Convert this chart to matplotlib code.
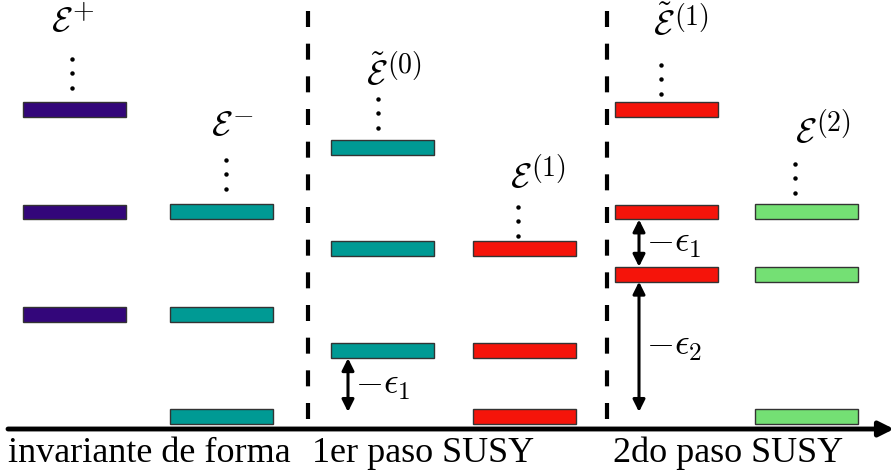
import matplotlib
matplotlib.use("Agg")
import matplotlib.pyplot as plt

plt.rcParams['font.family'] = ['Liberation Serif', 'DejaVu Serif']
plt.rcParams['mathtext.fontset'] = 'cm'

# ---- data: energy levels (arbitrary units) ----
E_plus = [1.0, 2.0, 3.0]
E_minus = [0.0, 1.0, 2.0]
E_tilde0 = [0.64, 1.64, 2.63]
E_1 = [0.0, 0.64, 1.64]
E_tilde1 = [1.39, 2.0, 3.0]
E_2 = [0.0, 1.39, 2.0]

level_sets = [E_plus, E_minus, E_tilde0, E_1, E_tilde1, E_2]
level_base = [r'$\mathcal{E}$', r'$\mathcal{E}$', r'$\tilde{\mathcal{E}}$',
              r'$\mathcal{E}$', r'$\tilde{\mathcal{E}}$', r'$\mathcal{E}$']
level_sup = [r'$+$', r'$-$', r'$(0)$', r'$(1)$', r'$(1)$', r'$(2)$']
level_colors = ['#33067a', '#009a94', '#009a94', '#f5140a', '#f5140a', '#74e074']
stage_labels = ['invariante de forma', '1er paso SUSY', '2do paso SUSY']
gap_labels = [r'$-\epsilon_1$', r'$-\epsilon_1$', r'$-\epsilon_2$']
# gaps: (column index, upper level, lower level)
gaps = [(2, 0.64, 0.0), (4, 2.0, 1.39), (4, 1.39, 0.0)]

# ---- layout ----
W, H = 894, 474
px = 102.0            # pixels per energy unit
y0 = 416.0            # pixel row of energy 0
def e(ypix):
    return (y0 - ypix) / px

col_left = [23, 170, 331, 473, 615, 755]
bar_w = 103
bar_h = 15 / px
label_pos = [(53, 31), (213, 135), (368, 85), (512, 187), (655, 35), (797, 142)]  # (left px, baseline px)
sup_raise = [12, 14, 12, 11, 10, 11]
dot_x = [72, 226, 378, 518, 661, 795]
dot_off = [22, 23, 20, 13, 16, 19]
stage_x = [149, 423, 728]
divider_x = [308, 607]
arrow_x = {2: 348, 4: 639}

fig = plt.figure(figsize=(W / 100, H / 100), dpi=100)
ax = fig.add_axes([0, 0, 1, 1])
ax.set_xlim(0, W)
ax.set_ylim(e(H), e(0))
ax.axis('off')

for i, (left, lv, col) in enumerate(zip(col_left, level_sets, level_colors)):
    ax.barh(lv, bar_w, height=bar_h, left=left, color=col, edgecolor='#333333', linewidth=1.0, zorder=3)
    top = max(lv)
    dys = [top + (dot_off[i] + k * 14.5) / px for k in range(3)]
    ax.plot([dot_x[i]] * 3, dys, 'o', color='k', ms=3.2, mew=0, zorder=3)
    lx, ly = label_pos[i]
    ax.text(lx - 2, e(ly), level_base[i], fontsize=25, ha='left', va='baseline')
    ax.text(lx + 19, e(ly - sup_raise[i]), level_sup[i], fontsize=20, ha='left', va='baseline')

# dividers
for dx in divider_x:
    ax.plot([dx, dx], [e(11), e(422)], color='k', lw=3, dashes=(3.84, 4.0), zorder=2)

# energy gaps
for (ci, up, lo), glab in zip(gaps, gap_labels):
    x = arrow_x[ci]
    top_y = up - bar_h / 2
    bot_y = lo + (bar_h / 2 if lo in level_sets[ci] else 0.04)
    ax.annotate('', xy=(x, bot_y), xytext=(x, top_y),
                arrowprops=dict(arrowstyle='<|-|>', lw=2.2, color='k', mutation_scale=18,
                                shrinkA=0, shrinkB=0), zorder=4)
    ax.text(x + 7, (top_y + bot_y) / 2, glab, fontsize=26, ha='left', va='center')

# horizontal axis
ax.annotate('', xy=(W, e(429)), xytext=(8, e(429)),
            arrowprops=dict(arrowstyle='-|>', lw=3.5, color='k', mutation_scale=22,
                            shrinkA=0, shrinkB=0))

for sx, sl in zip(stage_x, stage_labels):
    ax.text(sx, e(462), sl, fontsize=26, ha='center', va='baseline')

fig.savefig('out.png', dpi=100)
